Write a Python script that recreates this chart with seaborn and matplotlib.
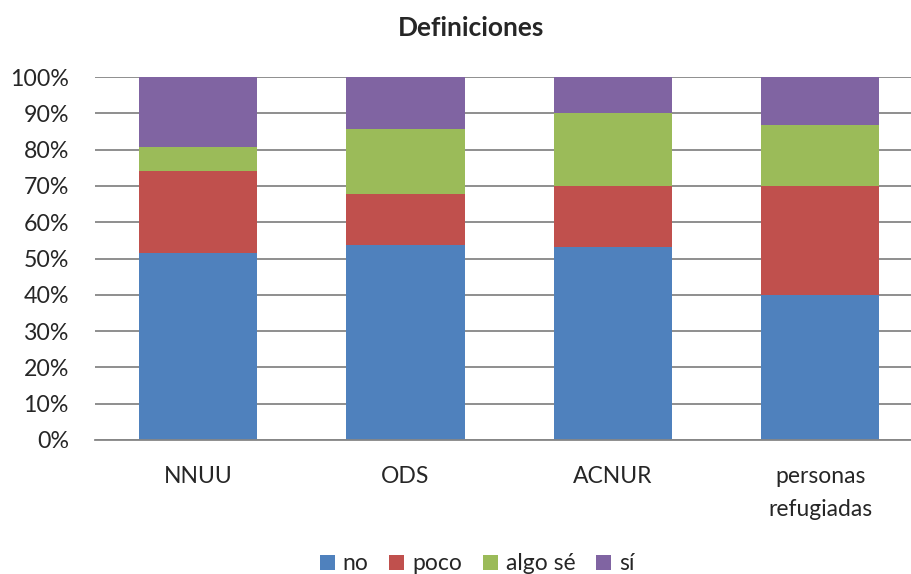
import numpy as np
import pandas as pd
import matplotlib
matplotlib.use("Agg")
import matplotlib.pyplot as plt
from matplotlib.patches import Patch
import seaborn as sns

# data (share of answers, %)
categories = ["NNUU", "ODS", "ACNUR", "personas\nrefugiadas"]
series_names = ["no", "poco", "algo sé", "sí"]
no = [51.6, 53.6, 53.3, 40.0]
poco = [22.6, 14.3, 16.7, 30.0]
algo = [6.5, 17.9, 20.0, 16.7]
si = [19.3, 14.2, 10.0, 13.3]
colors = ["#4F81BD", "#C0504D", "#9BBB59", "#8064A2"]

sns.set_theme(style="white")
plt.rcParams["font.family"] = ["Lato", "DejaVu Sans"]

# cumulative tops for stacking
stack = np.cumsum(np.array([no, poco, algo, si]), axis=0)
df = pd.DataFrame(stack.T, columns=series_names)
df["cat"] = categories

fig = plt.figure(figsize=(9.11, 5.74), dpi=100)
ax = fig.add_axes([94.5 / 911, 1 - 440 / 574, (924 - 94.5) / 911, 363 / 574])

# draw from tallest layer down so each shorter bar sits on top
for name, col in zip(series_names[::-1], colors[::-1]):
    sns.barplot(data=df, x="cat", y=name, color=col, width=0.57,
                saturation=1, ax=ax, edgecolor="none")

ax.set_xlim(-0.5, 3.5)
ax.set_ylim(0, 100)
ax.set_yticks(np.arange(0, 101, 10))
ax.set_yticklabels([f"{v}%" for v in range(0, 101, 10)], fontsize=16.7)
ax.yaxis.grid(True, color="#868686", linewidth=1.3)
ax.set_axisbelow(True)
ax.set_xlabel("")
ax.set_ylabel("")
for s in ["left", "right", "top"]:
    ax.spines[s].set_visible(False)
ax.spines["bottom"].set_color("#868686")
ax.spines["bottom"].set_linewidth(1.3)
ax.tick_params(axis="y", length=0, pad=18.5)
ax.tick_params(axis="x", length=0, pad=19, labelsize=16.5)
for lab in ax.get_xticklabels():
    lab.set_linespacing(1.7)

fig.text(471.5 / 911, 1 - 28 / 574, "Definiciones", ha="center", va="center",
         fontsize=19, fontweight="bold")

handles = [Patch(facecolor=c, edgecolor="none") for c in colors]
fig.legend(handles, series_names, loc="center", ncol=4,
           bbox_to_anchor=(477 / 911, 1 - 564 / 574), frameon=False,
           fontsize=16.5, handlelength=0.65, handleheight=0.65,
           handletextpad=0.35, columnspacing=0.9)

fig.savefig("out.png", dpi=100)
